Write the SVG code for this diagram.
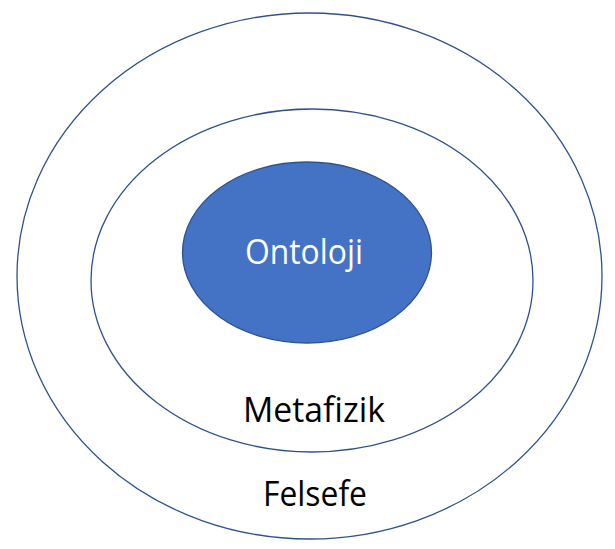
<svg xmlns="http://www.w3.org/2000/svg" width="615" height="549" viewBox="0 0 615 549">
<style>
.ring{fill:none;stroke:#2F528F;stroke-width:1.3}
.core{fill:#4472C4;stroke:#2F528F;stroke-width:1.3}
.lbl{font-family:"Open Sans","Noto Sans","Liberation Sans",sans-serif;font-size:34px;text-anchor:middle}
</style>
<rect width="615" height="549" fill="#ffffff"/>
<g id="felsefe">
<ellipse class="ring" cx="309.5" cy="276" rx="292.5" ry="263"/>
<text class="lbl" x="315" y="506" fill="#000000" textLength="104" lengthAdjust="spacingAndGlyphs">Felsefe</text>
</g>
<g id="metafizik">
<ellipse class="ring" cx="312" cy="280.5" rx="221" ry="171.5"/>
<text class="lbl" x="314" y="422" fill="#000000" textLength="142" lengthAdjust="spacingAndGlyphs">Metafizik</text>
</g>
<g id="ontoloji">
<ellipse class="core" cx="307" cy="252.5" rx="124.5" ry="90.5"/>
<text class="lbl" x="304" y="264" fill="#ffffff" textLength="118" lengthAdjust="spacingAndGlyphs">Ontoloji</text>
</g>
<g id="connectors"></g>
</svg>
